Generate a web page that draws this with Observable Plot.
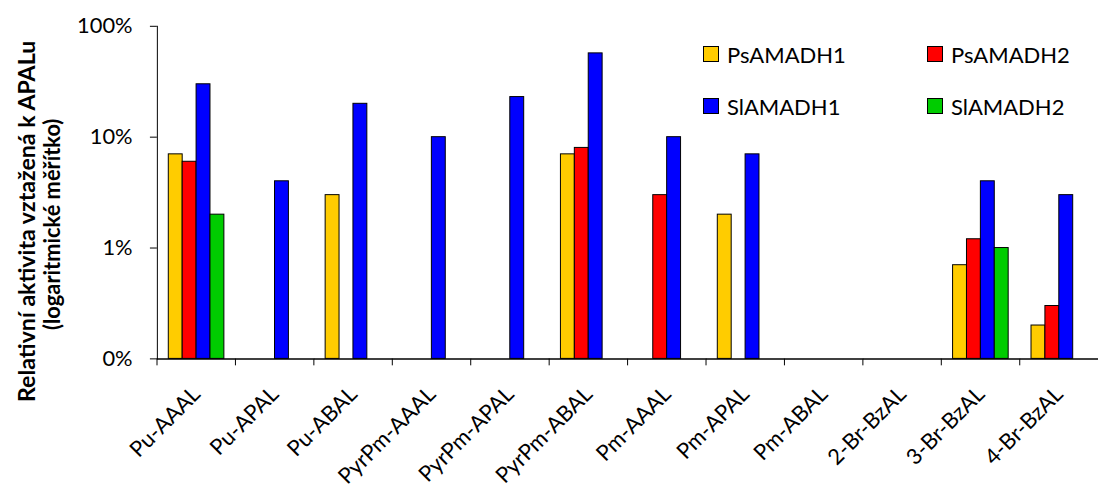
<!DOCTYPE html>
<html>
<head>
<meta charset="utf-8">
<script src="https://cdn.jsdelivr.net/npm/d3@7"></script>
<script src="https://cdn.jsdelivr.net/npm/@observablehq/plot@0.6"></script>
<style>
  body { margin: 0; background: #fff; }
  #wrap { position: relative; width: 1102px; height: 491px; overflow: hidden; font-family: Lato, sans-serif; background: #fff; }
  #legend { position: absolute; left: 703px; top: 40px; display: grid; grid-template-columns: 224px 180px; grid-auto-rows: 52px; }
  .item { display: flex; align-items: center; font-size: 22px; color: #000; height: 28px; }
  .sw { width: 14px; height: 14px; border: 1px solid #000; margin-right: 8px; box-sizing: content-box; }
</style>
</head>
<body>
<div id="wrap"><div id="legend"></div></div>
<script>
const categories = ["Pu-AAAL","Pu-APAL","Pu-ABAL","PyrPm-AAAL","PyrPm-APAL","PyrPm-ABAL","Pm-AAAL","Pm-APAL","Pm-ABAL","2-Br-BzAL","3-Br-BzAL","4-Br-BzAL"];
const seriesNames = ["PsAMADH1","PsAMADH2","SlAMADH1","SlAMADH2"];
const seriesColors = ["#FFCC00","#FF0000","#0000FF","#00CC00"];
// relative activity (%), null = no bar
const PsAMADH1 = [7, null, 3, null, null, 7, null, 2, null, null, 0.7, 0.2];
const PsAMADH2 = [6, null, null, null, null, 8, 3, null, null, null, 1.2, 0.3];
const SlAMADH1 = [30, 4, 20, 10, 23, 57, 10, 7, null, null, 4, 3];
const SlAMADH2 = [2, null, null, null, null, null, null, null, null, null, 1, null];
const yTicks = [0.1, 1, 10, 100];
const yTickLabels = ["0%", "1%", "10%", "100%"];
const yTitle1 = "Relativní aktivita vztažená k APALu";
const yTitle2 = "(logaritmické měřítko)";

const seriesValues = [PsAMADH1, PsAMADH2, SlAMADH1, SlAMADH2];
const data = [];
seriesValues.forEach((arr, si) => arr.forEach((v, ci) => {
  if (v != null) data.push({cat: categories[ci], series: seriesNames[si], value: v});
}));

const W = 1110, ML = 153.5, MR = 0;
const chart = Plot.plot({
  width: W, height: 491,
  marginLeft: ML, marginRight: MR, marginTop: 26, marginBottom: 130,
  style: {fontFamily: "Lato, sans-serif", fontSize: "22px", color: "#000", background: "#fff", overflow: "visible"},
  fx: {domain: categories, padding: 0, axis: "bottom", label: null, tickRotate: -45, tickSize: 7, tickPadding: 25},
  x: {domain: seriesNames, paddingInner: 0, paddingOuter: 0.72, axis: null},
  y: {type: "log", domain: [0.1, 100], ticks: yTicks, tickFormat: d => yTickLabels[yTicks.indexOf(d)], tickSize: 7, tickPadding: 18, line: true, label: null},
  color: {domain: seriesNames, range: seriesColors},
  marks: [
    Plot.barY(data, {fx: "cat", x: "series", y1: 0.1, y2: "value", fill: "series", stroke: "#000", strokeWidth: 1}),
    Plot.ruleY(categories, {fx: d => d, y: 0.1, stroke: "#000", strokeWidth: 1.5})
  ]
});

// move category ticks to band boundaries
const bw = (W - ML - MR) / categories.length;
chart.querySelectorAll('g[aria-label="fx-axis tick"]').forEach(g => {
  g.setAttribute("transform", `translate(${-bw / 2},0) ` + (g.getAttribute("transform") || ""));
});

const svg = d3.select(chart);
svg.append("text")
  .attr("transform", "translate(35,223) rotate(-90)")
  .attr("text-anchor", "middle")
  .style("font-weight", "bold").style("font-size", "23.3px")
  .text(yTitle1);
svg.append("text")
  .attr("transform", "translate(60,226) rotate(-90)")
  .attr("text-anchor", "middle")
  .style("font-weight", "bold").style("font-size", "22px")
  .text(yTitle2);

const wrap = document.getElementById("wrap");
wrap.insertBefore(chart, wrap.firstChild);
chart.style.position = "absolute"; chart.style.left = "0"; chart.style.top = "0";

const legend = document.getElementById("legend");
seriesNames.forEach((name, i) => {
  const it = document.createElement("div");
  it.className = "item";
  const sw = document.createElement("span");
  sw.className = "sw"; sw.style.background = seriesColors[i];
  const tx = document.createElement("span");
  tx.textContent = name;
  it.appendChild(sw); it.appendChild(tx);
  legend.appendChild(it);
});
</script>
</body>
</html>
